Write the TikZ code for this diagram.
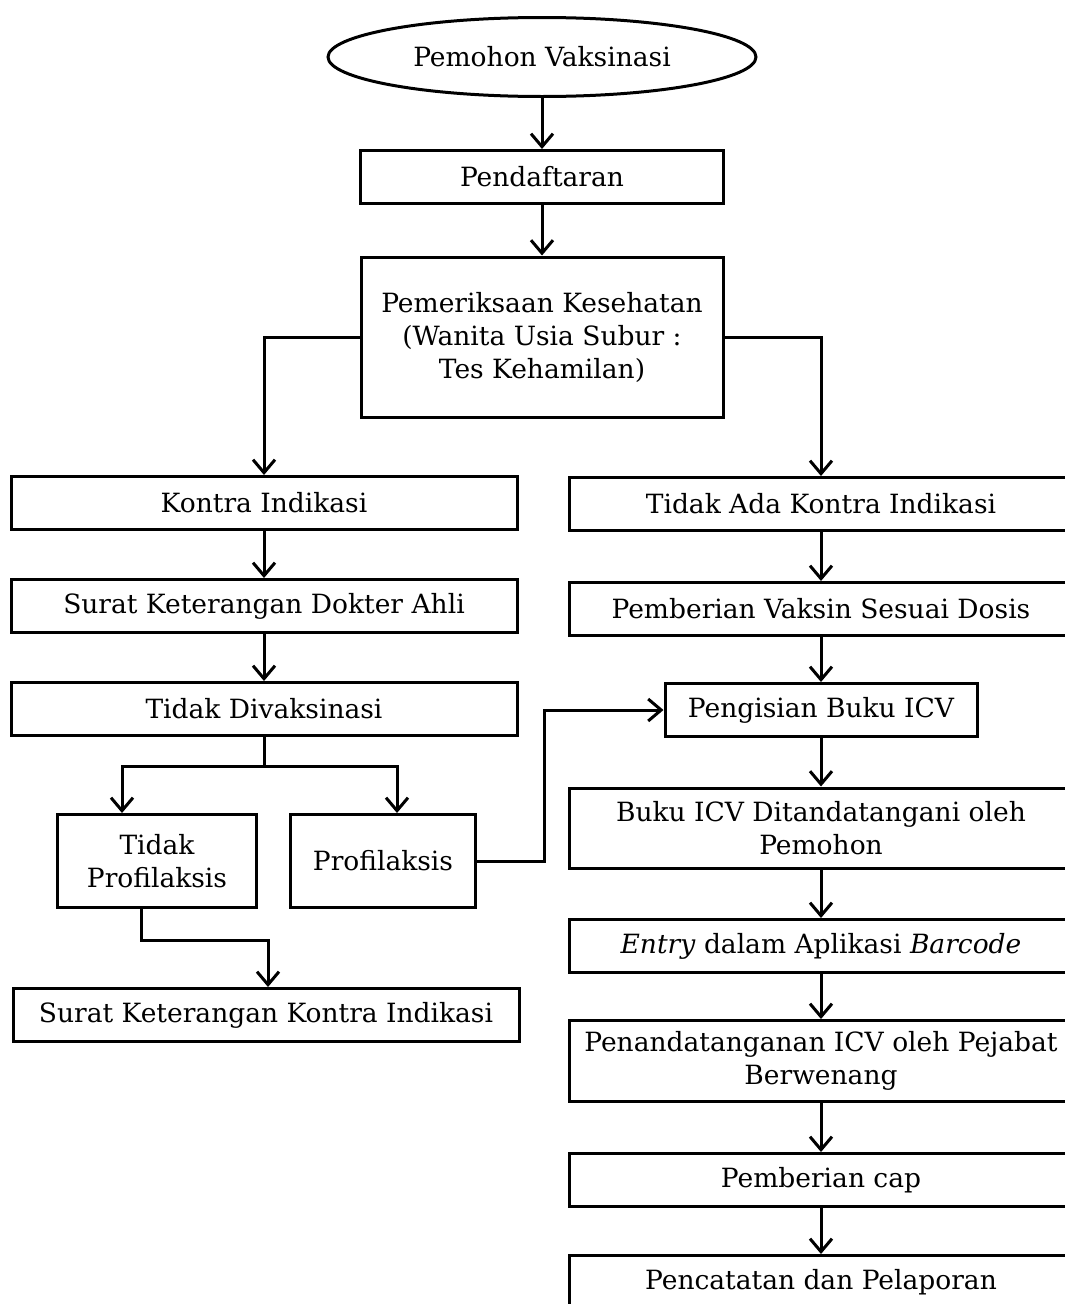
\documentclass[tikz,border=0pt]{standalone}
\usepackage{fontspec}
\setmainfont{DejaVu Serif}
\usetikzlibrary{shapes.geometric,arrows.meta}
\begin{document}
\begin{tikzpicture}[x=1pt,y=-1pt]
	\tikzstyle{every node}=[font=\fontsize{26.5}{33}\selectfont, align=center, inner sep=0pt]
	\tikzstyle{proc}=[draw, line width=3pt, minimum height=53pt]
	\tikzstyle{arr}=[line width=3pt, -{Straight Barb[length=13pt,width=22pt,line width=3pt]}]
	\tikzstyle{line}=[line width=3pt]
	\useasboundingbox (0,0) rectangle (1065,1304);
	% top of the flow
	\node [draw, ellipse, line width=3pt, minimum width=428pt, minimum height=79pt] (pemohon) at (542,57) {Pemohon Vaksinasi};
	\node [proc, minimum width=363pt] (daftar) at (542,177) {Pendaftaran};
	\node [proc, minimum width=362pt, minimum height=160pt] (periksa) at (542,337) {Pemeriksaan Kesehatan\\(Wanita Usia Subur :\\Tes Kehamilan)};
	% left branch
	\node [proc, minimum width=506pt] (kontra) at (264,503) {Kontra Indikasi};
	\node [proc, minimum width=506pt] (dokter) at (264,606) {Surat Keterangan Dokter Ahli};
	\node [proc, minimum width=506pt] (tidakvak) at (264,709) {Tidak Divaksinasi};
	\node [proc, minimum width=199pt, minimum height=93pt] (tidakprof) at (157,861) {Tidak\\Profilaksis};
	\node [proc, minimum width=185pt, minimum height=93pt] (prof) at (383,861) {Profilaksis};
	\node [proc, minimum width=506pt] (suratki) at (266,1015) {Surat Keterangan Kontra Indikasi};
	% right branch
	\node [proc, minimum width=504pt] (tidakada) at (821,504) {Tidak Ada Kontra Indikasi};
	\node [proc, minimum width=504pt] (vaksin) at (821,609) {Pemberian Vaksin Sesuai Dosis};
	\node [proc, minimum width=312pt] (icv) at (821,710) {Pengisian Buku ICV};
	\node [proc, minimum width=504pt, minimum height=80pt] (ttdpemohon) at (821,828) {Buku ICV Ditandatangani oleh\\Pemohon};
	\node [proc, minimum width=504pt] (entry) at (821,946) {\textit{Entry} dalam Aplikasi \textit{Barcode}};
	\node [proc, minimum width=504pt, minimum height=81pt] (ttdpejabat) at (821,1061) {Penandatanganan ICV oleh Pejabat\\Berwenang};
	\node [proc, minimum width=504pt] (cap) at (821,1180) {Pemberian cap};
	\node [proc, minimum width=504pt] (catat) at (821,1282) {Pencatatan dan Pelaporan};
	% connectors
	\draw [arr] (pemohon) -- (daftar);
	\draw [arr] (daftar) -- (periksa);
	\draw [arr] (periksa.west) -| (kontra.north);
	\draw [arr] (periksa.east) -| (tidakada.north);
	\draw [arr] (kontra) -- (dokter);
	\draw [arr] (dokter) -- (tidakvak);
	\draw [line] (tidakvak.south) -- ++(0,29) coordinate (bagi);
	\draw [arr] (bagi) -| ([xshift=-35pt]tidakprof.north);
	\draw [arr] (bagi) -| ([xshift=14pt]prof.north);
	\draw [arr] ([xshift=-16pt]tidakprof.south) |- ++(127,31) -- (suratki.north -| 268,0);
	\draw [arr] (prof.east) -- ++(67,0) |- (icv.west);
	\draw [arr] (tidakada) -- (vaksin);
	\draw [arr] (vaksin) -- (icv);
	\draw [arr] (icv) -- (ttdpemohon);
	\draw [arr] (ttdpemohon) -- (entry);
	\draw [arr] (entry) -- (ttdpejabat);
	\draw [arr] (ttdpejabat) -- (cap);
	\draw [arr] (cap) -- (catat);
\end{tikzpicture}
\end{document}
